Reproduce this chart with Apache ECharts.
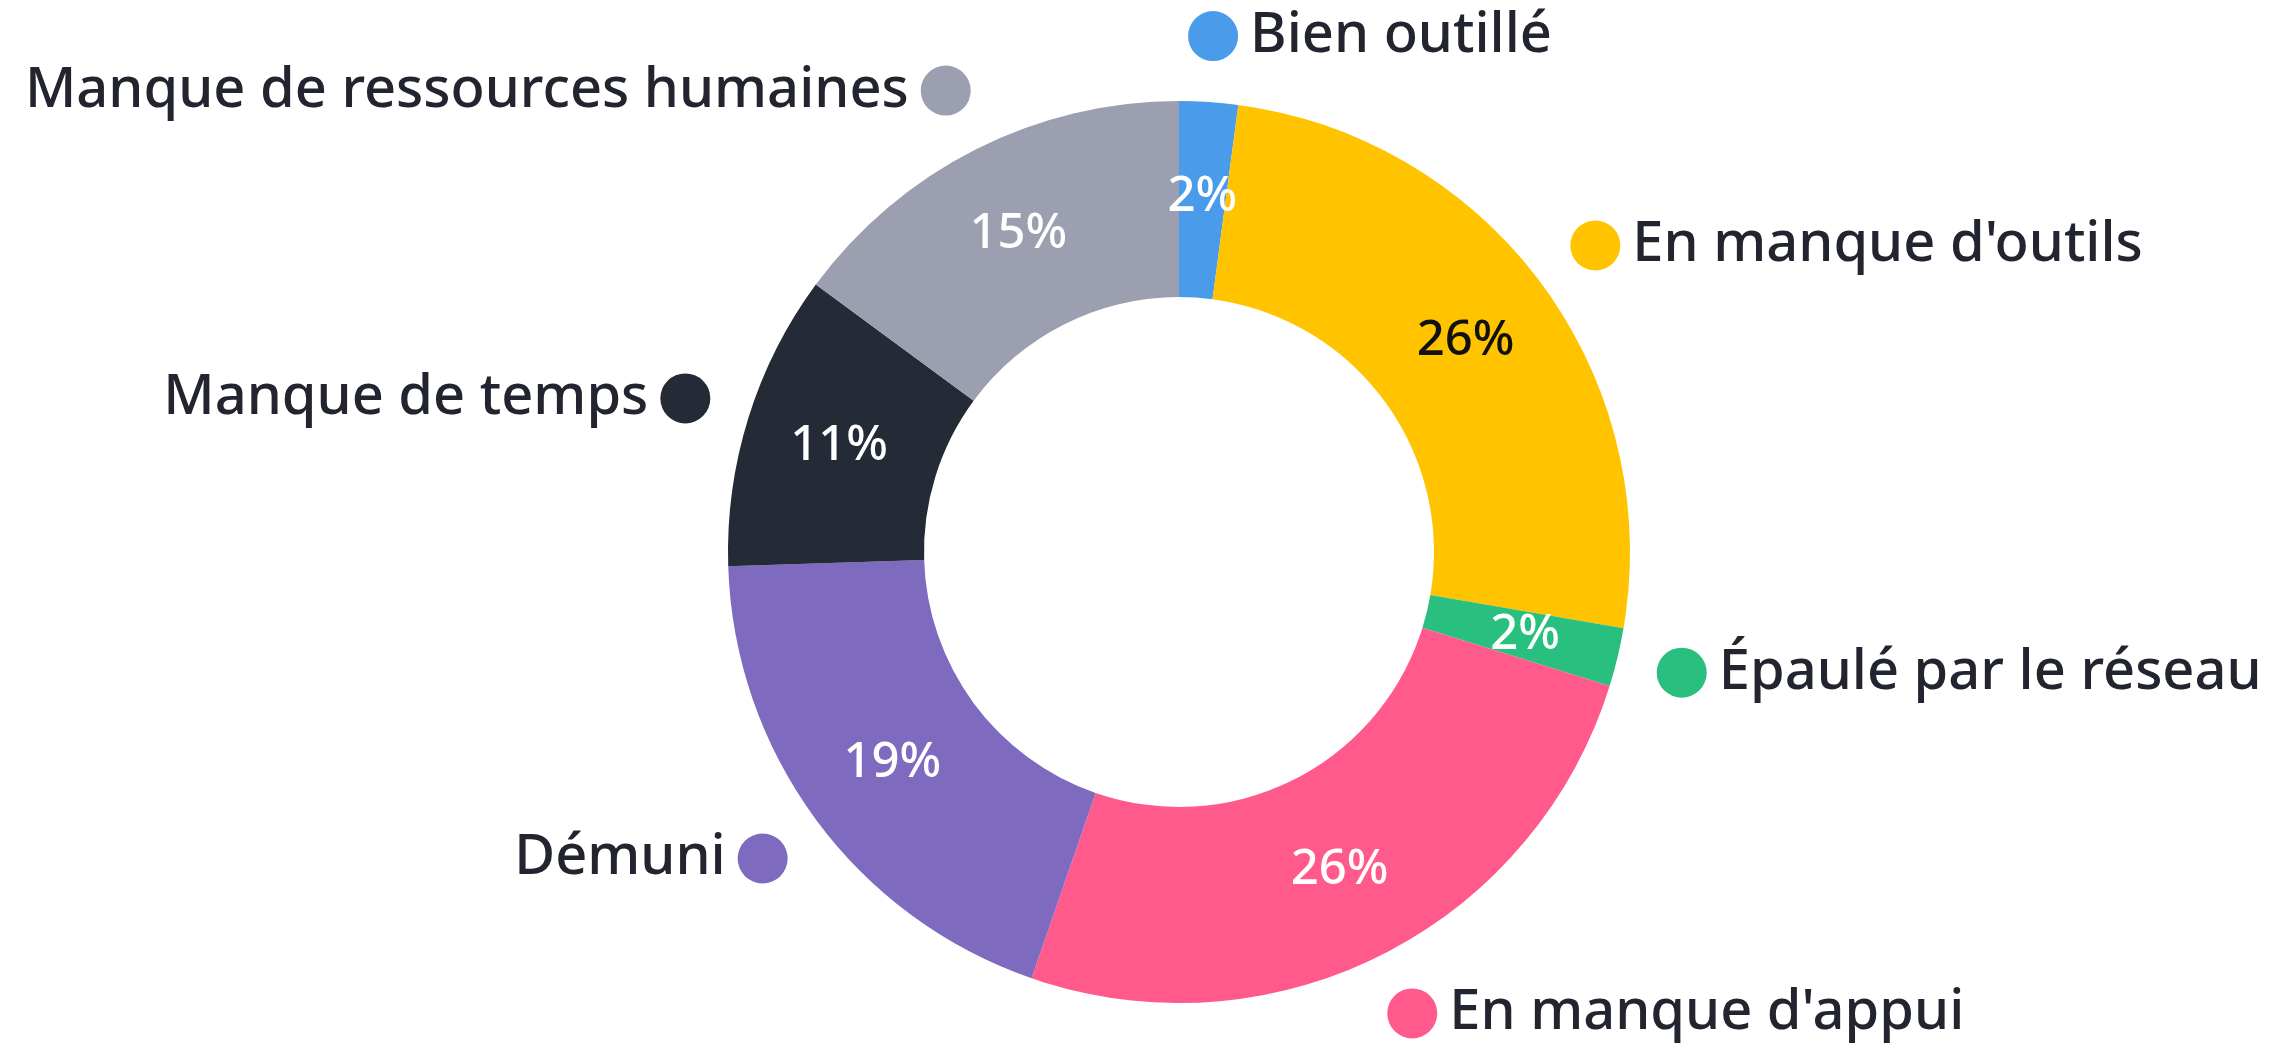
<!DOCTYPE html>
<html>
<head>
<meta charset="utf-8">
<title>Donut</title>
<script src="https://cdn.jsdelivr.net/npm/echarts@6/dist/echarts.min.js"></script>
<style>
	html, body {
		width: 100%;
		height: 100%;
		margin: 0;
		padding: 0;
		background: #fff;
	}
	#main {
		width: 2288px;
		height: 1047px;
	}
</style>
</head>
<body>
<div id="main"></div>
<script>
	var names = ['Bien outillé', "En manque d'outils", 'Épaulé par le réseau', "En manque d'appui", 'Démuni', 'Manque de temps', 'Manque de ressources humaines'];
	// the labels show them rounded
	var values = [2.1, 25.6, 2.1, 25.5, 19.2, 10.6, 14.9];
	var colors = ['#4a9bea', '#ffc300', '#29c07f', '#ff5a8b', '#7e6abf', '#242a36', '#9b9faf'];
	var pctColors = ['#fff', '#111', '#fff', '#fff', '#fff', '#fff', '#fff'];

	var font = '"Noto Sans", sans-serif';
	var total = values.reduce(function(a, b) { return a + b; }, 0);
	var side = [];
	var cum = 0;
	for (var i = 0; i < values.length; i++) {
		side.push((cum + values[i] / 2) / total < 0.5 ? 'r' : 'l');
		cum += values[i];
	}

	var rich = {
		tr: { fontSize: 56, fontFamily: font, fontWeight: 500, color: '#22252f', padding: [0, 0, 0, 12] },
		tl: { fontSize: 56, fontFamily: font, fontWeight: 500, color: '#22252f', padding: [0, 12, 0, 0] }
	};
	colors.forEach(function(c, i) {
		rich['d' + i] = { width: 50, height: 50, borderRadius: 25, backgroundColor: c };
	});

	var chart = echarts.init(document.getElementById('main'));
	chart.setOption({
		animation: false,
		color: colors,
		series: [
			{
				type: 'pie',
				radius: [255, 451],
				center: [1179, 552],
				startAngle: 90,
				avoidLabelOverlap: false,
				label: {
					position: 'outside',
					distanceToLabelLine: -25,
					rich: rich,
					formatter: function(p) {
						var i = p.dataIndex;
						return side[i] === 'r' ? '{d' + i + '|}{tr|' + p.name + '}' : '{tl|' + p.name + '}{d' + i + '|}';
					}
				},
				labelLine: { show: false, length: 66, length2: 0 },
				data: names.map(function(n, i) {
					return { name: n, value: values[i] };
				})
			},
			{
				// transparent copy on top, only for the percentages
				type: 'pie',
				radius: [255, 451],
				center: [1179, 552],
				startAngle: 90,
				silent: true,
				avoidLabelOverlap: false,
				itemStyle: { color: 'rgba(0,0,0,0)' },
				label: {
					position: 'inside',
					fontSize: 49,
					fontFamily: font,
					fontWeight: 500,
					formatter: function(p) { return Math.round(p.value) + '%'; }
				},
				data: names.map(function(n, i) {
					return { name: n, value: values[i], label: { color: pctColors[i] } };
				})
			}
		]
	});
</script>
</body>
</html>
